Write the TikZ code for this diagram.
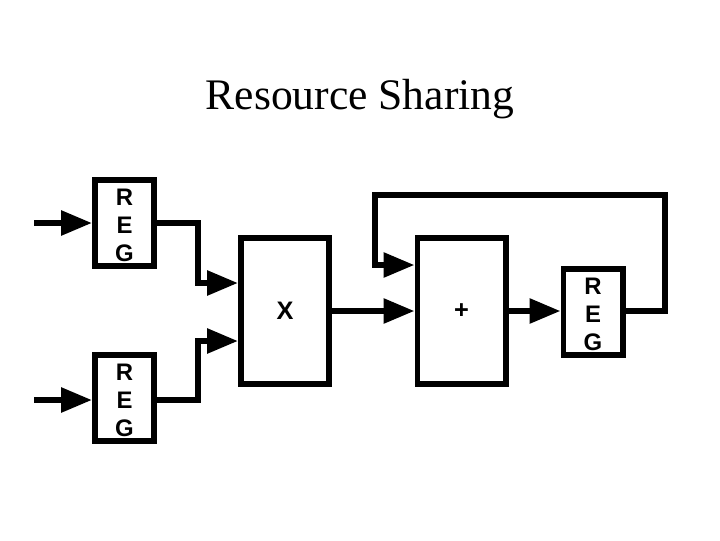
\documentclass[tikz,border=0pt]{standalone}
\usepackage{fontspec}
\setmainfont{Liberation Serif}
\newfontfamily\blockfont{Liberation Sans}
\usetikzlibrary{arrows.meta}

\begin{document}
\begin{tikzpicture}[
  x=0.025cm, y=-0.025cm,
  regbox/.style={rectangle, draw=black, line width=4.25pt, fill=white,
                 minimum width=1.475cm, minimum height=2.15cm, inner sep=0pt,
                 align=center, font=\blockfont\bfseries\fontsize{17}{20.2}\selectfont},
  opbox/.style={rectangle, draw=black, line width=4.25pt, fill=white,
                minimum width=2.2cm, minimum height=3.65cm, inner sep=0pt,
                font=\blockfont\bfseries\fontsize{18}{20}\selectfont},
  titlenode/.style={font=\fontsize{31}{36}\selectfont, anchor=base},
  arr/.style={-{Triangle[length=22pt, width=17pt]}, line width=4.25pt, black}
]

% page frame
\fill[white] (0,0) rectangle (720,540);

% Title
\node[titlenode] (title) at (360,109) {Resource Sharing};

% Registers and operators
\node[regbox] (reg1) at (124.5,223) {\rule{0pt}{15pt}R\\E\\G};
\node[regbox] (reg2) at (124.5,398) {\rule{0pt}{15pt}R\\E\\G};
\node[opbox]  (mult) at (285,311)   {X};
\node[opbox]  (plus) at (461.5,311) {+};
\node[regbox] (reg3) at (593,312)   {\rule{0pt}{15pt}R\\E\\G};

% Helper points
\coordinate (in1) at (34,223);
\coordinate (in2) at (34,400);
\coordinate (j1)  at (198,283);
\coordinate (j2)  at (198,341);
\coordinate (fbr) at (665,195);
\coordinate (fbl) at (375,195);
\coordinate (fbin) at (375,265);

% Inputs
\draw[arr] (in1) -- (reg1.west |- in1);
\draw[arr] (in2) -- (reg2.west |- in2);

% Registers into multiplier
\draw[arr] (reg1.east) -| (j1) -- (mult.west |- j1);
\draw[arr] (reg2.east |- in2) -| (j2) -- (mult.west |- j2);

% Multiplier -> adder -> register
\draw[arr] (mult.east) -- (plus.west);
\draw[arr] (plus.east) -- (reg3.west |- plus.east);

% Feedback loop
\draw[arr] (reg3.east |- plus.east) -| (fbr) -- (fbl) -- (fbin) -- (plus.west |- fbin);

\end{tikzpicture}
\end{document}
